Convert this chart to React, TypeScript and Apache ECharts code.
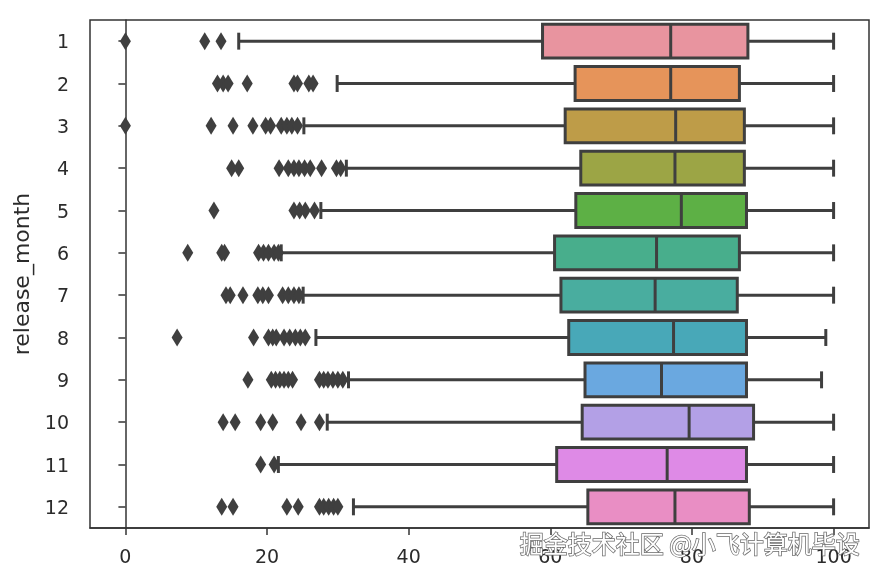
import React, { useEffect, useRef } from "react";
import * as echarts from "echarts";

const months = ["1", "2", "3", "4", "5", "6", "7", "8", "9", "10", "11", "12"];
const whiskerLow = [16.0, 29.9, 25.2, 31.2, 27.6, 22.0, 25.1, 26.9, 31.5, 28.5, 21.6, 32.2];
const q1 = [58.9, 63.5, 62.1, 64.3, 63.6, 60.6, 61.5, 62.6, 64.9, 64.5, 60.9, 65.3];
const medians = [77.0, 77.0, 77.7, 77.6, 78.5, 75.0, 74.8, 77.4, 75.7, 79.6, 76.5, 77.6];
const q3 = [87.9, 86.7, 87.4, 87.4, 87.7, 86.7, 86.4, 87.7, 87.7, 88.7, 87.7, 88.1];
const whiskerHigh = [100, 100, 100, 100, 100, 100, 100, 98.9, 98.3, 100, 100, 100];
const outliers: number[][] = [
  [0, 11.2, 13.5],
  [13.0, 13.8, 14.5, 17.2, 23.8, 24.3, 25.9, 26.5],
  [0, 12.1, 15.2, 18.0, 19.8, 20.5, 22.0, 22.8, 23.5, 24.3],
  [15.0, 16.0, 21.7, 23.0, 23.8, 24.5, 25.3, 26.1, 27.7, 29.8, 30.4],
  [12.5, 23.8, 24.6, 25.4, 26.7],
  [8.8, 13.6, 14.0, 18.8, 19.5, 20.2, 21.0, 21.6],
  [14.2, 14.8, 16.6, 18.7, 19.4, 20.2, 22.2, 23.0, 23.8, 24.5],
  [7.3, 18.1, 20.2, 20.8, 21.3, 22.4, 23.2, 24.0, 24.7, 25.4],
  [17.3, 20.6, 21.2, 21.8, 22.4, 23.0, 23.6, 27.4, 28.0, 28.6, 29.3, 30.0, 30.7],
  [13.8, 15.5, 19.1, 20.8, 24.8, 27.4],
  [19.1, 21.0],
  [13.6, 15.2, 22.8, 24.4, 27.4, 28.0, 28.7, 29.4, 30.0],
];
const xTicks = [0, 20, 40, 60, 80, 100];
const palette = [
  "#E8949F", "#E6945A", "#BE9C48", "#9CA545", "#5DB045", "#48AE8C",
  "#49AD9F", "#48A8B8", "#6AA8E0", "#B3A0E6", "#DE8AE6", "#E98EC4",
];

const EDGE = "#3f3f3f";
const LW = 3;
const TXT = "#2b2b2b";

export default function App() {
  const ref = useRef<HTMLDivElement>(null);
  useEffect(() => {
    if (!ref.current) return;
    const chart = echarts.init(ref.current, undefined, { renderer: "svg" });
    const boxData = months.map((_, i) => [i, whiskerLow[i], q1[i], medians[i], q3[i], whiskerHigh[i]]);
    const outlierData: number[][] = [];
    outliers.forEach((arr, i) => arr.forEach((v) => outlierData.push([v, i])));

    chart.setOption({
      animation: false,
      textStyle: { fontFamily: "DejaVu Sans" },
      grid: {
        left: 90,
        right: 14,
        top: 20,
        bottom: 49,
        containLabel: false,
        outerBoundsMode: "none",
        show: true,
        borderColor: "#333",
        borderWidth: 1.5,
        backgroundColor: "transparent",
      },
      xAxis: {
        type: "value",
        min: -5,
        max: 105,
        splitLine: { show: false },
        axisLine: { show: true, onZero: false, lineStyle: { color: "#333", width: 1.5 } },
        axisTick: { show: true, length: 7, lineStyle: { color: "#333", width: 1.5 }, customValues: xTicks },
        axisLabel: { fontSize: 19, color: TXT, margin: 18, customValues: xTicks },
      },
      yAxis: {
        type: "category",
        data: months,
        inverse: true,
        name: "release_month",
        nameLocation: "middle",
        nameGap: 58,
        nameTextStyle: { fontSize: 22, color: TXT },
        axisLine: { show: true, lineStyle: { color: "#333", width: 1.5 } },
        axisTick: { show: true, length: 7, alignWithLabel: true, lineStyle: { color: "#333", width: 1.5 } },
        axisLabel: { fontSize: 19, color: TXT, margin: 21 },
        splitLine: { show: false },
      },
      series: [
        {
          type: "custom",
          data: boxData,
          encode: { x: [1, 2, 3, 4, 5], y: 0 },
          renderItem: (params: any, api: any) => {
            const idx = api.value(0);
            const pWl = api.coord([api.value(1), idx]);
            const pQ1 = api.coord([api.value(2), idx]);
            const pMed = api.coord([api.value(3), idx]);
            const pQ3 = api.coord([api.value(4), idx]);
            const pWh = api.coord([api.value(5), idx]);
            const band = api.size([0, 1])[1];
            const hh = (band * 0.8) / 2;
            const ch = hh / 2;
            const y = pQ1[1];
            const ls = { stroke: EDGE, lineWidth: LW };
            return {
              type: "group",
              children: [
                { type: "line", shape: { x1: pWl[0], y1: y, x2: pQ1[0], y2: y }, style: ls },
                { type: "line", shape: { x1: pQ3[0], y1: y, x2: pWh[0], y2: y }, style: ls },
                { type: "line", shape: { x1: pWl[0], y1: y - ch, x2: pWl[0], y2: y + ch }, style: ls },
                { type: "line", shape: { x1: pWh[0], y1: y - ch, x2: pWh[0], y2: y + ch }, style: ls },
                {
                  type: "rect",
                  shape: { x: pQ1[0], y: y - hh, width: pQ3[0] - pQ1[0], height: hh * 2 },
                  style: { fill: palette[params.dataIndex], stroke: EDGE, lineWidth: LW },
                },
                { type: "line", shape: { x1: pMed[0], y1: y - hh, x2: pMed[0], y2: y + hh }, style: ls },
              ],
            };
          },
        },
        {
          type: "scatter",
          data: outlierData,
          symbol: "path://M0,-10L6,0L0,10L-6,0Z",
          symbolSize: [11, 18],
          itemStyle: { color: EDGE, opacity: 1 },
          silent: true,
        },
      ],
      graphic: [
        {
          type: "text",
          left: 519,
          top: 530,
          z: 100,
          style: {
            text: "掘金技术社区 @小飞计算机毕设",
            fontSize: 24,
            fontFamily: "Noto Sans CJK SC",
            fill: "#ffffff",
            stroke: "#6a6a6a",
            lineWidth: 1.5,
          },
        },
      ],
    });
    return () => chart.dispose();
  }, []);
  return <div ref={ref} style={{ position: "fixed", left: 0, top: 0, width: 883, height: 577 }} />;
}
